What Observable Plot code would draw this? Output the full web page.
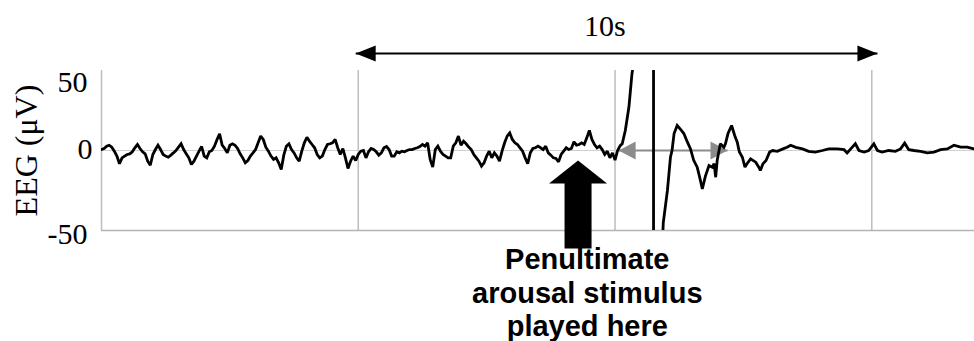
<!DOCTYPE html>
<html>
<head>
<meta charset="utf-8">
<script src="https://cdn.jsdelivr.net/npm/d3@7"></script>
<script src="https://cdn.jsdelivr.net/npm/@observablehq/plot@0.6"></script>
<style>
  html, body { margin: 0; padding: 0; background: #fff; }
  #chart svg { display: block; }
</style>
</head>
<body>
<div id="chart"></div>
<script>
// EEG trace: time (s) and amplitude (µV). Excursions beyond ±50 µV are clipped by the frame.
const traceTime = [
  0.00, 0.05, 0.10, 0.15, 0.20, 0.25, 0.30, 0.35, 0.40, 0.45,
  0.50, 0.55, 0.60, 0.65, 0.70, 0.75, 0.80, 0.85, 0.90, 0.95,
  1.00, 1.05, 1.10, 1.15, 1.20, 1.25, 1.30, 1.35, 1.40, 1.45,
  1.50, 1.55, 1.60, 1.65, 1.70, 1.75, 1.80, 1.85, 1.90, 1.95,
  2.00, 2.05, 2.10, 2.15, 2.20, 2.25, 2.30, 2.35, 2.40, 2.45,
  2.50, 2.55, 2.60, 2.65, 2.70, 2.75, 2.80, 2.85, 2.90, 2.95,
  3.00, 3.05, 3.10, 3.15, 3.20, 3.25, 3.30, 3.35, 3.40, 3.45,
  3.50, 3.55, 3.60, 3.65, 3.70, 3.75, 3.80, 3.85, 3.90, 3.95,
  4.00, 4.05, 4.10, 4.15, 4.20, 4.25, 4.30, 4.35, 4.40, 4.45,
  4.50, 4.55, 4.60, 4.65, 4.70, 4.75, 4.80, 4.85, 4.90, 4.95,
  5.00, 5.05, 5.10, 5.15, 5.20, 5.25, 5.30, 5.35, 5.40, 5.45,
  5.50, 5.55, 5.60, 5.65, 5.70, 5.75, 5.80, 5.85, 5.90, 5.95,
  6.00, 6.05, 6.10, 6.15, 6.20, 6.25, 6.30, 6.35, 6.40, 6.45,
  6.50, 6.55, 6.60, 6.65, 6.70, 6.75, 6.80, 6.85, 6.90, 6.95,
  7.00, 7.05, 7.10, 7.15, 7.20, 7.25, 7.30, 7.35, 7.40, 7.45,
  7.50, 7.55, 7.60, 7.65, 7.70, 7.75, 7.80, 7.85, 7.90, 7.95,
  8.00, 8.05, 8.10, 8.15, 8.20, 8.25, 8.30, 8.35, 8.40, 8.45,
  8.50, 8.55, 8.60, 8.65, 8.70, 8.75, 8.80, 8.85, 8.90, 8.95,
  9.00, 9.05, 9.10, 9.15, 9.20, 9.25, 9.30, 9.35, 9.40, 9.45,
  9.50, 9.55, 9.60, 9.65, 9.70, 9.75, 9.80, 9.85, 9.90, 9.95,
  10.00, 10.05, 10.10, 10.14, 10.20, 10.24, 10.27, 10.30, 10.33, 10.40,
  10.50, 10.59, 10.69, 10.75, 10.75, 10.85, 10.94, 11.02, 11.08, 11.11,
  11.15, 11.21, 11.28, 11.34, 11.41, 11.47, 11.53, 11.60, 11.65, 11.70,
  11.76, 11.83, 11.89, 11.93, 11.96, 11.99, 12.05, 12.12, 12.15, 12.20,
  12.27, 12.33, 12.38, 12.42, 12.48, 12.53, 12.57, 12.64, 12.74, 12.80,
  12.83, 12.88, 12.94, 13.01, 13.07, 13.16, 13.27, 13.35, 13.42, 13.52,
  13.65, 13.77, 13.90, 14.04, 14.16, 14.33, 14.46, 14.52, 14.59, 14.68,
  14.75, 14.85, 14.94, 15.04, 15.11, 15.20, 15.33, 15.46, 15.56, 15.64,
  15.72, 15.82, 15.95, 16.08, 16.21, 16.34, 16.47, 16.60, 16.73, 16.86,
  16.99
];
const traceValue = [
  0.6, 1.25, 2.7, 3.3, 2.1, -0.4, -3.5, -8.3, -4.6, -3.5,
  -2.5, -2.1, -0.8, 1.7, 3.75, 1.25, -0.8, -2.1, -6.7, -9.2,
  -2.5, 0.6, 3.3, 0.6, -2.5, -3.5, -4.2, -2.9, -1.5, 0,
  2.1, 4.2, 0.6, -2.1, -4.6, -8.75, -6.7, -3.5, -0.4, 2.5,
  -3.5, -4.6, -0.8, 0, 2.7, 6.9, 10.4, 3.3, 1.25, -1.5,
  3.3, 4.2, 3.3, 1.25, -2.1, -4.6, -7.7, -6.25, -3.5, -1.5,
  0.6, 4.8, 9, 6.9, 2.1, -0.4, -3.5, -5.6, -4.6, -7.7,
  -11.9, -2.9, 2.7, 4.2, 0.6, -1.5, -4.6, -6.7, -0.4, 4.8,
  8.3, 5.8, 3.75, 1.7, -2.5, -4.6, -3.5, 0.6, 3.75, 4.2,
  4.8, 6.9, 1.7, -2.5, 1.25, -4.6, -11.25, -6.7, -3.5, -6.25,
  -2.5, -0.4, 0, -4.6, -0.8, 1.25, 0.6, -0.8, -2.9, -1.5,
  1.7, 2.5, 0.6, -3.5, -3.5, -0.8, -1.5, -0.4, -0.8, 0,
  0.6, 0.6, 1.25, 1.7, 2.5, 3.75, 2.7, 4.8, -5.6, -10.4,
  0.6, 2.7, -0.4, -2.5, -3.5, -4.6, -4.6, 2.7, 4.8, 9,
  3.3, 5.8, 4.2, 2.1, 0.6, -2.5, -4.6, -6.7, -9.8, -7.7,
  -3.5, -0.4, -4.6, -1.5, -3.5, -6.7, -0.4, 4.8, 9, 11,
  6.9, 4.8, 3.75, 1.7, -0.4, -4.6, -8.3, -1.5, 1.25, 1.7,
  2.7, 1.7, 0.6, 2.7, -1.5, -2.9, -4.6, -5, -7.1, -2.5,
  -0.4, 1.7, 0.6, 1.25, 5.4, 3.3, 3.75, 4.8, 3.75, 7.9,
  12.5, 6.9, 3.75, 1.7, 2.7, 0.6, -2.5, -0.4, -4.6, -1.5,
  -6, 0, 3, 4.2, 12.5, 20.8, 27, 37.5, 48, 62,
  95, 130, 160, 175, -170, -110, -45, -25, -4, 0,
  10.6, 15.6, 13, 10.6, 5.2, 1, -6, -10.4, -17, -24,
  -16, -9.4, -10.4, -8.3, -16.7, -6, 4.2, 2, 4.2, 10.6,
  15.6, 9.4, 5.2, -0.8, -4.2, -10.4, -8.3, -5.2, -7.3, -10.4,
  -12.5, -8.3, -6.3, -1, 0, -0.5, 1, 2, 3.3, 2,
  1, -0.5, -1, 0, 1, 1, 0.5, -1.5, 1, 4.2,
  0, -1, 0, 4.2, 0, -1, 0, -0.5, 1, 4.6,
  0.5, 0, -0.5, -1.5, -1, 0.5, 1, 3.3, 2.1, 2.1,
  1
];

// Axis and annotation values
const gridSeconds = [0, 5, 10, 15];
const yDomain = [-50, 50];
const spanSeconds = [4.95, 15.11];      // the "10s" bracket
const spanLabel = "10s";
const spanLabelAt = 9.8;
const latencySeconds = [10.07, 12.19];  // grey double arrow along 0 µV
const stimulusTime = 9.28;              // where the stimulus arrow points
const stimulusLevel = -6.25;
const stimulusLabel = ["Penultimate", "arousal stimulus", "played here"];
const stimulusLabelAt = 9.46;

const eeg = traceTime.map((t, i) => ({t, v: traceValue[i]}));

// Filled triangular head, tip at the origin, pointing right
const headRight = (len, half) => ({
  draw(ctx) {
    ctx.moveTo(0, 0);
    ctx.lineTo(-len, -half);
    ctx.lineTo(-len, half);
    ctx.closePath();
  }
});
// Block arrow pointing up, tip at the origin
const blockArrow = {
  draw(ctx) {
    ctx.moveTo(0, 0);
    ctx.lineTo(29, 23);
    ctx.lineTo(13.5, 23);
    ctx.lineTo(13.5, 88);
    ctx.lineTo(-13.5, 88);
    ctx.lineTo(-13.5, 23);
    ctx.lineTo(-29, 23);
    ctx.closePath();
  }
};

const serif = "'Liberation Serif', 'Times New Roman', serif";
const sans = "'Liberation Sans', Arial, sans-serif";
const blackHead = headRight(20, 8);
const greyHead = headRight(17, 9);

const chart = Plot.plot({
  width: 974,
  height: 341,
  marginLeft: 101,
  marginRight: 0,
  marginTop: 70,
  marginBottom: 111,
  style: {fontFamily: serif, fontSize: "30px", background: "#fff", color: "#000"},
  x: {domain: [0, 17], axis: null},
  y: {domain: yDomain, axis: null},
  marks: [
    Plot.ruleX(gridSeconds, {stroke: "#bdbdbd", strokeWidth: 1.5}),
    Plot.ruleY([0], {stroke: "#d0d0d0", strokeWidth: 1.2}),
    Plot.ruleY([yDomain[0]], {stroke: "#b4b4b4", strokeWidth: 1.5}),

    Plot.axisY([50], {anchor: "left", tickSize: 0, tickPadding: 14, dy: 12, label: null,
      tickFormat: d => String(d), fontSize: 30, fontFamily: serif}),
    Plot.axisY([0], {anchor: "left", tickSize: 0, tickPadding: 9, dy: -1, label: null,
      tickFormat: d => String(d), fontSize: 30, fontFamily: serif}),
    Plot.axisY([-50], {anchor: "left", tickSize: 0, tickPadding: 14, dy: 4, label: null,
      tickFormat: d => String(d), fontSize: 30, fontFamily: serif}),
    Plot.text(["EEG (μV)"], {frameAnchor: "left", textAnchor: "middle", lineAnchor: "middle",
      dx: -75, rotate: -90, fontSize: 32, fontFamily: serif}),

    // grey double arrow along the baseline
    Plot.link([latencySeconds], {x1: d => d[0], x2: d => d[1], y1: 0, y2: 0,
      stroke: "#8c8c8c", strokeWidth: 2}),
    Plot.dot([latencySeconds[0]], {x: d => d, y: 0, symbol: greyHead, rotate: 180, r: 5, fill: "#8c8c8c"}),
    Plot.dot([latencySeconds[1]], {x: d => d, y: 0, symbol: greyHead, r: 5, fill: "#8c8c8c"}),

    // EEG trace
    Plot.line(eeg, {x: "t", y: "v", stroke: "#000", strokeWidth: 2.8, strokeLinejoin: "miter",
      strokeMiterlimit: 2, clip: true}),

    // 10 s bracket above the frame
    Plot.link([spanSeconds], {x1: d => d[0], x2: d => d[1], y1: yDomain[1], y2: yDomain[1], dy: -17,
      stroke: "#000", strokeWidth: 2}),
    Plot.dot([spanSeconds[0]], {x: d => d, y: yDomain[1], dy: -17, symbol: blackHead, rotate: 180, r: 5, fill: "#000"}),
    Plot.dot([spanSeconds[1]], {x: d => d, y: yDomain[1], dy: -17, symbol: blackHead, r: 5, fill: "#000"}),
    Plot.text([spanLabel], {x: spanLabelAt, frameAnchor: "top", lineAnchor: "middle", dy: -44,
      fontSize: 30, fontFamily: serif}),

    // stimulus marker and its label
    Plot.dot([stimulusTime], {x: d => d, y: stimulusLevel, symbol: blockArrow, r: 5, fill: "#000"}),
    Plot.text([stimulusLabel.join("\n")], {x: stimulusLabelAt, y: yDomain[0], dy: 14, lineAnchor: "top",
      lineHeight: 1.17, fontSize: 29, fontWeight: "bold", fontFamily: sans})
  ]
});

document.getElementById("chart").appendChild(chart);
</script>
</body>
</html>
